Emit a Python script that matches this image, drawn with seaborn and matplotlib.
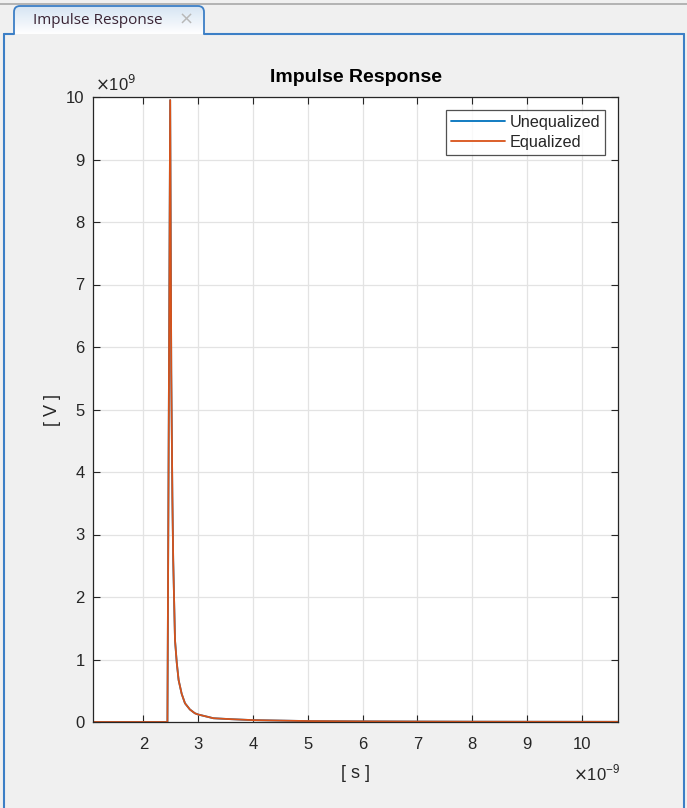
import numpy as np
import pandas as pd
import matplotlib
matplotlib.use("Agg")
import matplotlib.pyplot as plt
import seaborn as sns
from matplotlib.patches import PathPatch
from matplotlib.path import Path
from matplotlib.lines import Line2D
from matplotlib.ticker import FixedLocator, FuncFormatter
from matplotlib.colors import LinearSegmentedColormap

# ---------------- data ----------------
time_s = [1.082e-9, 2.44e-9, 2.49e-9, 2.51e-9, 2.53e-9, 2.545e-9, 2.578e-9, 2.61e-9,
          2.644e-9, 2.70e-9, 2.76e-9, 2.85e-9, 2.94e-9, 3.0e-9, 3.28e-9, 3.6e-9,
          4.0e-9, 5.0e-9, 6.0e-9, 7.0e-9, 8.0e-9, 9.0e-9, 10.66e-9]
unequalized_v = [0.0, 0.0, 9.95e9, 5.6e9, 3.6e9, 2.6e9, 1.31e9, 0.95e9,
                 0.67e9, 0.45e9, 0.30e9, 0.20e9, 0.14e9, 0.12e9, 0.06e9, 0.045e9,
                 0.03e9, 0.015e9, 0.01e9, 0.007e9, 0.005e9, 0.004e9, 0.003e9]
equalized_v = list(unequalized_v)
series_names = ["Unequalized", "Equalized"]
x_ticks = [2e-9, 3e-9, 4e-9, 5e-9, 6e-9, 7e-9, 8e-9, 9e-9, 10e-9]
y_ticks = [0, 1e9, 2e9, 3e9, 4e9, 5e9, 6e9, 7e9, 8e9, 9e9, 10e9]

df = pd.DataFrame({
    "t": time_s * 2,
    "v": unequalized_v + equalized_v,
    "series": [series_names[0]] * len(time_s) + [series_names[1]] * len(time_s),
})

# ---------------- figure ----------------
W, H = 687, 808
sns.set_theme(style="white")
plt.rcParams["font.family"] = ["Liberation Sans", "DejaVu Sans"]
fig = plt.figure(figsize=(W / 100, H / 100), dpi=100, facecolor="#f0f0f0")

def fx(px):
    return px / W

def fy(py):
    return 1 - py / H

# window chrome
fig.add_artist(Line2D([0, 1], [fy(3.5), fy(3.5)], transform=fig.transFigure,
                      color="#a8a8a8", lw=1.2))
blue = "#3c7fc6"
fig.add_artist(Line2D([fx(3.5), fx(3.5)], [fy(34), 0], transform=fig.transFigure, color=blue, lw=1.5))
fig.add_artist(Line2D([fx(683.5), fx(683.5)], [fy(34), 0], transform=fig.transFigure, color=blue, lw=1.5))
fig.add_artist(Line2D([fx(3.5), fx(14)], [fy(34), fy(34)], transform=fig.transFigure, color=blue, lw=1.5))
fig.add_artist(Line2D([fx(204), fx(683.5)], [fy(34), fy(34)], transform=fig.transFigure, color=blue, lw=1.5))

# tab with rounded top corners
x0, x1, yt, yb, r = 14, 204, 6, 34, 6
verts = [(x0, yb), (x0, yt + r), (x0, yt), (x0 + r, yt), (x1 - r, yt), (x1, yt), (x1, yt + r), (x1, yb)]
codes = [Path.MOVETO, Path.LINETO, Path.CURVE3, Path.CURVE3, Path.LINETO, Path.CURVE3, Path.CURVE3, Path.LINETO]
tab_path = Path([(fx(a), fy(b)) for a, b in verts], codes)
grad_ax = fig.add_axes([fx(x0), fy(yb), fx(x1) - fx(x0), fy(yt) - fy(yb)])
grad_ax.axis("off")
grad = np.linspace(0, 1, 64).reshape(-1, 1)
cm = LinearSegmentedColormap.from_list("tab", ["#d6e4f3", "#ffffff"])
im = grad_ax.imshow(grad, cmap=cm, aspect="auto", extent=[0, 1, 0, 1], origin="upper")
clip = PathPatch(tab_path, transform=fig.transFigure, facecolor="none", edgecolor="none")
fig.add_artist(clip)
im.set_clip_path(clip)
fig.add_artist(PathPatch(tab_path, transform=fig.transFigure, facecolor="none",
                         edgecolor=blue, lw=1.3))
fig.text(fx(33), fy(20.5), "Impulse Response", fontsize=11, color="#3a2434",
         va="center", ha="left", family=["Open Sans", "DejaVu Sans"])
fig.text(fx(186), fy(20), "\u00d7", fontsize=13, color="#b8b8b8", va="center", ha="center",
         family=["DejaVu Sans"])

# axes
ax = fig.add_axes([fx(93), fy(722), fx(618) - fx(93), fy(97) - fy(722)])
ax.set_facecolor("white")
sns.lineplot(data=df, x="t", y="v", hue="series", hue_order=series_names,
             palette=["#0072BD", "#D95319"], ax=ax, lw=1.3, estimator=None,
             sort=False, legend=True)
ax.set_xlim(1.082e-9, 10.66e-9)
ax.set_ylim(0, 10e9)
ax.xaxis.set_major_locator(FixedLocator(x_ticks))
ax.yaxis.set_major_locator(FixedLocator(y_ticks))
ax.xaxis.set_major_formatter(FuncFormatter(lambda v, p: f"{v / 1e-9:g}"))
ax.yaxis.set_major_formatter(FuncFormatter(lambda v, p: f"{v / 1e9:g}"))
ax.grid(True, color="#e3e3e3", lw=0.9)
ax.set_axisbelow(True)
for s in ax.spines.values():
    s.set_color("#262626")
    s.set_linewidth(0.9)
    s.set_visible(True)
ax.tick_params(direction="in", length=5, width=0.8, color="#262626",
               top=True, right=True, bottom=True, left=True,
               labelsize=12, labelcolor="#262626")
ax.tick_params(axis="y", pad=6)
ax.tick_params(axis="x", pad=11)
ax.set_xlabel("[ s ]", fontsize=13, color="#262626", labelpad=9)
ax.set_ylabel("[ V ]", fontsize=13, color="#262626", labelpad=4)
ax.set_title("")
fig.text(fx(355.5), fy(77), "Impulse Response", fontsize=14, fontweight="bold",
         color="black", ha="center", va="center")

leg = ax.legend(loc="upper right", bbox_to_anchor=(0.975, 0.979), fontsize=11.7,
                frameon=True, fancybox=False, handlelength=3.3, handletextpad=0.3,
                borderpad=0.3, labelspacing=0.3, borderaxespad=0)
leg.get_frame().set_edgecolor("#262626")
leg.get_frame().set_linewidth(0.9)
for l in leg.get_lines():
    l.set_linewidth(1.3)

fig.text(fx(95), fy(84), r"$\times$10$^{9}$", fontsize=12, color="#262626", va="center", ha="left")
fig.text(fx(573), fy(773), r"$\times$10$^{\mathregular{-9}}$", fontsize=12, color="#262626",
         va="center", ha="left")

fig.savefig("out.png", dpi=100, facecolor=fig.get_facecolor())
